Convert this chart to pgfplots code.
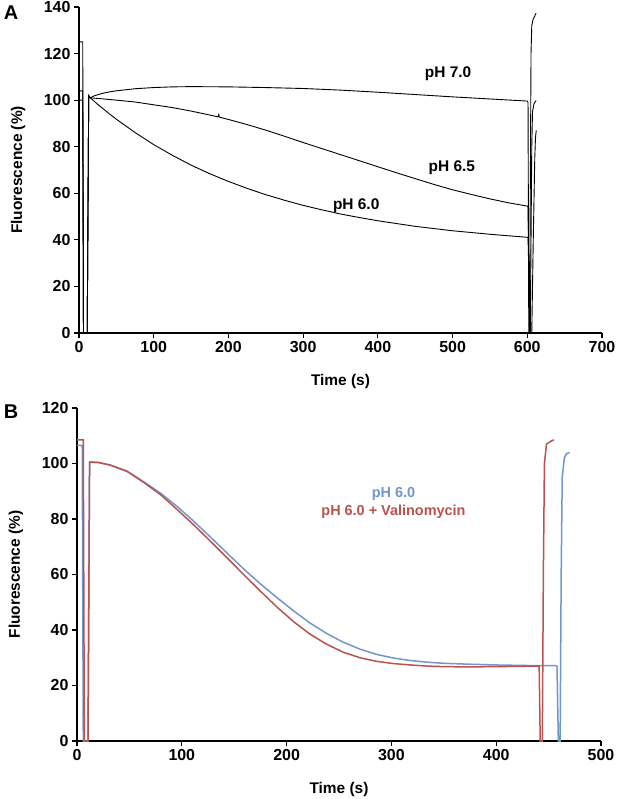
\documentclass[border=0pt]{standalone}
\usepackage{pgfplots}
\pgfplotsset{compat=1.18}
\usepackage{fontspec}
\setmainfont{Liberation Sans}
\definecolor{cblue}{RGB}{112,150,208}
\definecolor{cred}{RGB}{185,82,80}
\pgfplotsset{
  panel/.style={
    scale only axis,
    axis lines=left,
    axis line style={line width=1.6bp,-},
    tick style={line width=1.2bp,black},
    major tick length=5bp,
    tick align=outside,
    /pgf/number format/assume math mode=true,
    ticklabel style={font=\fontsize{16}{19}\selectfont\bfseries},
    label style={font=\fontsize{15.5}{18}\selectfont\bfseries},
    ylabel style={at={(axis description cs:-0.1166,0.5)},anchor=center},
    xlabel style={at={(axis description cs:0.5,0)},anchor=center,yshift=-49bp},
    ylabel={Fluorescence (\%)},
    xlabel={Time (s)},
    clip=false,
  }
}
\begin{document}
\begin{tikzpicture}
\useasboundingbox (0,0) rectangle (617bp,799bp);
% Panel A
\begin{axis}[panel,
  at={(79bp,466bp)}, anchor=south west,
  width=523bp, height=326bp,
  xmin=0, xmax=700, ymin=0, ymax=140,
  xtick={0,100,...,700}, ytick={0,20,...,140}]
% pH 7.0
\addplot[black, line width=0.9bp] coordinates {
(0,104) (5,104) (6,0) (11,0) (13,101.5) (15,101) (20,101.8) (30,102.8) (40,103.5) (50,104) (75,104.9) (100,105.4) (125,105.7) (150,105.8) (200,105.7) (250,105.4) (300,105) (350,104.3) (400,103.4) (450,102.4) (500,101.4) (550,100.5) (600,99.6) (601,99) (602,0) (603,0) (604,60) (605,120) (606,132) (608,135) (610,136) (611,137) (612,137.3)};
% pH 6.5
\addplot[black, line width=0.9bp] coordinates {
(0,125) (5,125) (6,0) (11,0) (13,102) (15,101) (30,100.6) (50,100) (75,99.2) (100,98) (125,96.8) (150,95.3) (175,93.6) (186,92.8) (187,93.8) (188,92.7) (200,91.7) (225,89.5) (250,87.1) (275,84.5) (300,81.8) (325,79.2) (350,76.6) (375,74) (400,71.4) (425,68.8) (450,66.3) (475,63.8) (500,61.5) (525,59.5) (550,57.6) (575,55.9) (600,54.5) (601,54) (603,0) (604,0) (605,40) (606,80) (607,95) (609,98.5) (611,99.5) (612,99.8)};
% pH 6.0
\addplot[black, line width=0.9bp] coordinates {
(0,100) (5,100) (6,0) (11,0) (13,102) (15,101) (25,98.2) (40,94.3) (50,91.8) (75,86.1) (100,80.9) (125,76.3) (150,72.1) (175,68.4) (200,65.1) (225,62.1) (250,59.4) (275,57) (300,54.8) (325,52.9) (350,51.1) (375,49.6) (400,48.2) (450,45.8) (500,43.9) (550,42.4) (600,41.1) (601,40.8) (604,0) (606,0) (608,40) (610,75) (611,84) (612,87)};
\node[font=\fontsize{15.5}{18}\selectfont\bfseries] at (axis cs:494,111.5) {pH 7.0};
\node[font=\fontsize{15.5}{18}\selectfont\bfseries] at (axis cs:499,70.8) {pH 6.5};
\node[font=\fontsize{15.5}{18}\selectfont\bfseries] at (axis cs:371,54.5) {pH 6.0};
\end{axis}
\node[font=\fontsize{20}{24}\selectfont\bfseries] at (11bp,786bp) {A};
% Panel B
\begin{axis}[panel,
  at={(77bp,58bp)}, anchor=south west,
  width=524bp, height=333bp,
  xmin=0, xmax=500, ymin=0, ymax=120,
  xtick={0,100,...,500}, ytick={0,20,...,120}]
\addplot[cblue, line width=1.5bp] coordinates {
(0,106.5) (5,106.5) (6,0) (10.5,0) (12,100.5) (20,100.4) (32,99.4) (48,97.2) (64,93.3) (80,89.2) (95,84.7) (111,79.3) (127,73.6) (143,67.8) (159,62) (175,56.6) (191,51.6) (207,46.8) (222,42.6) (238,38.8) (254,35.6) (270,33.1) (286,31.2) (302,29.9) (318,29) (334,28.4) (350,28) (372,27.7) (400,27.4) (430,27.2) (457,27.2) (458,27) (459.3,0) (461,0) (462,60) (463,95) (465,102) (467,103.5) (470,104)};
\addplot[cred, line width=1.5bp] coordinates {
(0,108.5) (6,108.5) (7,0) (10.5,0) (12,100.5) (20,100.4) (32,99.4) (48,97.1) (64,93.1) (80,88.7) (95,83.6) (111,78) (127,72.1) (143,66.1) (159,60) (175,54) (191,48.2) (207,42.9) (222,38.6) (238,34.9) (254,32) (270,30) (286,28.7) (302,27.9) (318,27.4) (334,27) (350,26.8) (372,26.7) (400,26.8) (441,27) (442,0) (444,0) (445,60) (446,100) (448,107) (452,108) (455,108.5)};
\node[font=\fontsize{14.5}{17}\selectfont\bfseries, text=cblue] at (axis cs:302,89) {pH 6.0};
\node[font=\fontsize{14.5}{17}\selectfont\bfseries, text=cred] at (axis cs:302,82.5) {pH 6.0 + Valinomycin};
\end{axis}
\node[font=\fontsize{20}{24}\selectfont\bfseries] at (11bp,387bp) {B};
\end{tikzpicture}
\end{document}
